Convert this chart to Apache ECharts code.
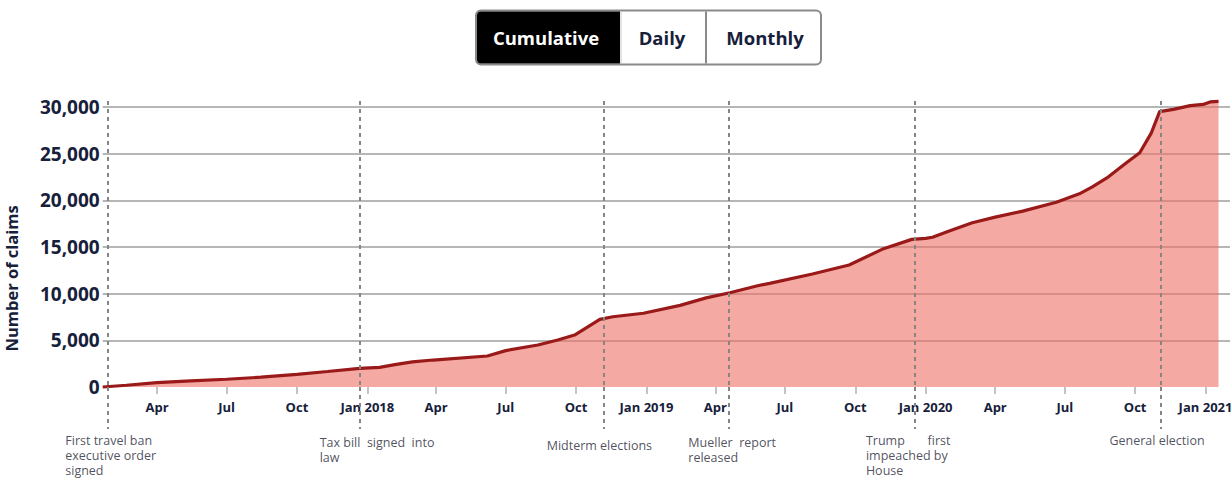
<!DOCTYPE html>
<html>
<head>
<meta charset="utf-8">
<script src="https://cdn.jsdelivr.net/npm/echarts@6/dist/echarts.min.js"></script>
<style>
html,body{margin:0;padding:0;background:#ffffff;}
#chart{width:1232px;height:480px;}
</style>
</head>
<body>
<div id="chart"></div>
<script>
// ---- DATA ----
const dates = [
  '2017-01-20','2017-02-20','2017-04-01','2017-05-15','2017-07-01','2017-08-15','2017-10-01','2017-11-10',
  '2017-12-22','2018-01-17','2018-02-06','2018-03-01','2018-03-28','2018-06-07','2018-07-01','2018-08-12',
  '2018-09-07','2018-09-29','2018-11-01','2018-11-18','2018-12-28','2019-02-14','2019-03-20','2019-04-20',
  '2019-05-25','2019-06-11','2019-08-06','2019-09-23','2019-11-05','2019-12-14','2020-01-01','2020-01-10',
  '2020-01-31','2020-03-02','2020-04-01','2020-05-07','2020-06-20','2020-07-20','2020-08-06','2020-08-25',
  '2020-09-20','2020-10-07','2020-10-22','2020-11-02','2020-11-20','2020-12-12','2020-12-29','2021-01-07',
  '2021-01-18'
];
const claims = [
  0, 190, 470, 650, 830, 1050, 1360, 1660,
  2000, 2110, 2400, 2700, 2890, 3320, 3900, 4500,
  5040, 5570, 7250, 7530, 7900, 8750, 9550, 10100,
  10820, 11110, 12110, 13070, 14750, 15820, 15930, 16050,
  16700, 17600, 18200, 18850, 19800, 20700, 21450, 22400,
  24050, 25100, 27200, 29500, 29750, 30150, 30280, 30550,
  30600
];
const yTickValues = [0, 5000, 10000, 15000, 20000, 25000, 30000];
const xTickDates = [
  '2017-04-01','2017-07-01','2017-10-01','2018-01-01','2018-04-01','2018-07-01','2018-10-01',
  '2019-01-01','2019-04-01','2019-07-01','2019-10-01','2020-01-01','2020-04-01','2020-07-01',
  '2020-10-01','2021-01-01'
];
const monthNames = ['Jan','Feb','Mar','Apr','May','Jun','Jul','Aug','Sep','Oct','Nov','Dec'];
const eventDates = ['2017-01-26','2017-12-22','2018-11-06','2019-04-18','2019-12-18','2020-11-03'];
const eventLabels = [
  'First travel ban\nexecutive order\nsigned',
  'Tax bill  signed  into\nlaw',
  'Midterm elections',
  'Mueller  report\nreleased',
  'Trump       first\nimpeached by\nHouse',
  'General election'
];
const buttonLabels = ['Cumulative', 'Daily', 'Monthly'];

// ---- LAYOUT (not data) ----
const xMinDate = '2017-01-20';
const xMaxDate = '2021-02-02';
const eventLineTop = 30650;      // upper end of event lines (value units)
const lowerBandTop = 93;         // lower band axis range (annotation strip)
const eventLineLowEnd = 51;      // lower end of event lines in annotation strip
const eventLabelOffsets = [[-42, 0], [-40, 2], [-57, 5], [-40, 2], [-49, 0], [-51, 0]];

function ts(s) {
  const p = s.split('-').map(Number);
  return new Date(p[0], p[1] - 1, p[2]).getTime();
}

const navy = '#16203b';
const font = "'Open Sans', 'Noto Sans', sans-serif";
const dashStyle = { color: '#858585', width: 2, type: [4, 4] };

const chart = echarts.init(document.getElementById('chart'), null, {renderer: 'svg'});

const option = {
  animation: false,
  backgroundColor: '#ffffff',
  grid: [
    { left: 102.7, right: 2, top: 97.7, bottom: 93, containLabel: false, outerBoundsMode: 'none' },
    { left: 102.7, right: 2, top: 387, bottom: 0, containLabel: false, outerBoundsMode: 'none' }
  ],
  xAxis: [
    {
      type: 'value',
      gridIndex: 0,
      min: ts(xMinDate),
      max: ts(xMaxDate),
      axisLine: { show: false },
      axisTick: {
        show: true, length: 7, customValues: xTickDates.map(ts),
        lineStyle: { color: '#b0b0b0', width: 1.5 }
      },
      splitLine: { show: false },
      axisLabel: {
        customValues: xTickDates.map(ts),
        margin: 13,
        color: navy,
        fontFamily: font,
        fontWeight: 'bold',
        fontSize: 13,
        hideOverlap: false,
        formatter: function (v) {
          const d = new Date(v);
          const m = d.getMonth();
          return m === 0 ? monthNames[m] + ' ' + d.getFullYear() : monthNames[m];
        }
      }
    },
    {
      type: 'value',
      gridIndex: 1,
      min: ts(xMinDate),
      max: ts(xMaxDate),
      show: false
    }
  ],
  yAxis: [
    {
      type: 'value',
      gridIndex: 0,
      min: 0,
      max: 31000,
      interval: 5000,
      name: 'Number of claims',
      nameLocation: 'middle',
      nameGap: 83,
      nameTextStyle: { color: navy, fontFamily: font, fontWeight: 'bold', fontSize: 16.5, padding: [0, 72, 0, 0] },
      axisLine: { show: false },
      axisTick: { show: false, customValues: yTickValues.slice(1) },
      splitLine: { show: true, lineStyle: { color: '#b6b6b6', width: 2 } },
      axisLabel: {
        customValues: yTickValues,
        margin: 3,
        color: navy,
        fontFamily: font,
        fontWeight: 'bold',
        fontSize: 19,
        formatter: function (v) { return v.toLocaleString('en-US'); }
      }
    },
    {
      type: 'value',
      gridIndex: 1,
      min: 0,
      max: lowerBandTop,
      show: false
    }
  ],
  series: [
    {
      type: 'line',
      xAxisIndex: 0,
      yAxisIndex: 0,
      data: dates.map((d, i) => [ts(d), claims[i]]),
      showSymbol: false,
      symbol: 'none',
      clip: false,
      z: 3,
      lineStyle: { color: '#9a1a1a', width: 3.2 },
      areaStyle: { color: 'rgba(238,112,102,0.6)', opacity: 1 },
      markLine: {
        silent: true,
        symbol: ['none', 'none'],
        label: { show: false },
        lineStyle: dashStyle,
        data: eventDates.map(d => [{ coord: [ts(d), eventLineTop] }, { coord: [ts(d), 0] }])
      }
    },
    {
      type: 'scatter',
      xAxisIndex: 1,
      yAxisIndex: 1,
      symbolSize: 1,
      itemStyle: { color: 'rgba(0,0,0,0)' },
      silent: true,
      z: 4,
      markLine: {
        silent: true,
        symbol: ['none', 'none'],
        label: { show: false },
        lineStyle: dashStyle,
        data: eventDates.map(d => [{ coord: [ts(d), lowerBandTop] }, { coord: [ts(d), eventLineLowEnd] }])
      },
      data: eventDates.map((d, i) => ({
        value: [ts(d), eventLineLowEnd],
        label: {
          show: true,
          position: 'bottom',
          distance: 3,
          align: 'left',
          offset: eventLabelOffsets[i],
          formatter: eventLabels[i],
          color: '#1e2536',
          fontFamily: font,
          fontSize: 12.5,
          lineHeight: 15
        }
      }))
    }
  ],
  graphic: [
    {
      type: 'group',
      left: 475,
      top: 9,
      children: [
        { type: 'rect', shape: { x: 0, y: 0, width: 345, height: 54, r: 5 },
          style: { fill: '#ffffff', stroke: '#8a8a8a', lineWidth: 2 } },
        { type: 'rect', shape: { x: 1, y: 1, width: 143, height: 52, r: [4, 0, 0, 4] },
          style: { fill: '#000000' } },
        { type: 'line', shape: { x1: 145, y1: 1, x2: 145, y2: 53 },
          style: { stroke: '#c8c8c8', lineWidth: 1 } },
        { type: 'line', shape: { x1: 230, y1: 1, x2: 230, y2: 53 },
          style: { stroke: '#8a8a8a', lineWidth: 2 } },
        { type: 'text', x: 70, y: 27,
          style: { text: buttonLabels[0], fill: '#ffffff', font: "bold 18.5px 'Open Sans', sans-serif", align: 'center', verticalAlign: 'middle' } },
        { type: 'text', x: 186, y: 27,
          style: { text: buttonLabels[1], fill: navy, font: "bold 18.5px 'Open Sans', sans-serif", align: 'center', verticalAlign: 'middle' } },
        { type: 'text', x: 289, y: 27,
          style: { text: buttonLabels[2], fill: navy, font: "bold 18.5px 'Open Sans', sans-serif", align: 'center', verticalAlign: 'middle' } }
      ]
    }
  ]
};

chart.setOption(option);
</script>
</body>
</html>
